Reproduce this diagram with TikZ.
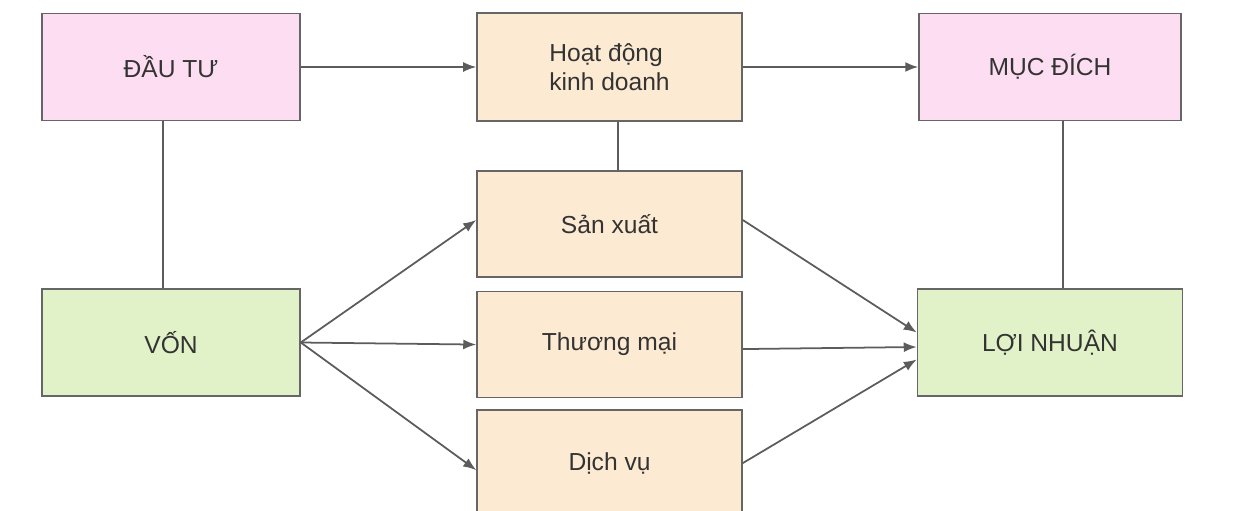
\documentclass[tikz,border=0pt]{standalone}
\usepackage{fontspec}
\setmainfont{Liberation Sans}
\usepackage{tikz}
\usetikzlibrary{arrows.meta,positioning}

\definecolor{pinkfill}{HTML}{FCDDF2}
\definecolor{peachfill}{HTML}{FDEAD2}
\definecolor{greenfill}{HTML}{E2F2C8}
\definecolor{edgegray}{HTML}{666666}
\definecolor{textgray}{HTML}{333333}

\begin{document}
\begin{tikzpicture}[x=0.02cm,y=-0.02cm,
    box/.style = {draw=edgegray,line width=0.9pt,inner sep=0pt,
                  minimum height=2.14cm,text=textgray,
                  font=\fontsize{14pt}{16.4pt}\selectfont},
    goal/.style = {box,fill=pinkfill,minimum width=5.24cm},
    work/.style = {box,fill=peachfill,minimum width=5.3cm,minimum height=2.12cm},
    money/.style = {box,fill=greenfill,minimum width=5.24cm},
    link/.style = {draw=edgegray!90!black,line width=1pt},
    arr/.style = {link,-{Latex[length=2.6mm,width=2mm]}}]
    \useasboundingbox (0,0) rectangle (1256,510);

    % upper row
    \node [goal,minimum width=5.16cm] (dautu) at (171,67) {ĐẦU TƯ};
    \node [work,minimum height=2.16cm,align=left] (hoatdong) at (609.5,67) {Hoạt động\\kinh doanh};
    \node [goal] (mucdich) at (1050,67) {MỤC ĐÍCH};

    % middle column
    \node [work] (sanxuat) at (609.5,224) {Sản xuất};
    \node [work,below=0.26cm of sanxuat] (thuongmai) {Thương mại};
    \node [work,below=0.22cm of thuongmai] (dichvu) {Dịch vụ};

    % lower row
    \node [money,minimum width=5.16cm] (von) at (171,342.5) {VỐN};
    \node [money,minimum width=5.3cm] (loinhuan) at (1050,342.5) {LỢI NHUẬN};

    % plain links
    \draw [link] ([xshift=-1.6mm]dautu.south) -- ([xshift=-1.6mm]von.north);
    \draw [link] ([xshift=1.7mm]hoatdong.south) -- ([xshift=1.7mm]sanxuat.north);
    \draw [link] ([xshift=2.6mm]mucdich.south) -- ([xshift=2.6mm]loinhuan.north);

    % arrows
    \draw [arr] (dautu) -- (hoatdong);
    \draw [arr] (hoatdong) -- (mucdich);
    \draw [arr] (von.east) -- ([yshift=0.8mm]sanxuat.west);
    \draw [arr] (von.east) -- (thuongmai.west);
    \draw [arr] (von.east) -- ([yshift=-1.4mm]dichvu.west);
    \draw [arr] ([yshift=0.8mm]sanxuat.east) -- ([yshift=2mm]loinhuan.west);
    \draw [arr] ([yshift=-0.9mm]thuongmai.east) -- ([yshift=-0.9mm]loinhuan.west);
    \draw [arr] (dichvu.east) -- ([yshift=-3.4mm]loinhuan.west);
\end{tikzpicture}
\end{document}
